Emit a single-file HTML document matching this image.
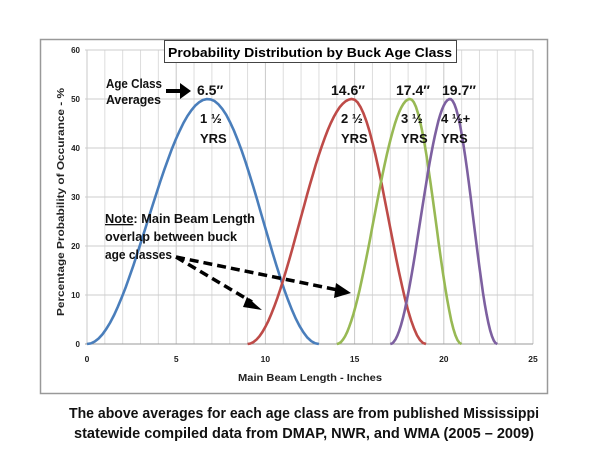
<!DOCTYPE html>
<html><head><meta charset="utf-8"><style>
html,body{margin:0;padding:0;background:#fff;}
svg{display:block;font-family:"Liberation Sans",sans-serif;}
</style></head><body>
<svg id="s" width="600" height="450" viewBox="0 0 600 450">
<rect x="40.5" y="39.5" width="507" height="354" fill="#fff" stroke="#999" stroke-width="1.5"/>
<g id="grid"></g>
<g id="curves" fill="none" stroke-width="2.6"></g>
<rect x="164.5" y="40.5" width="292" height="22" fill="#fff" stroke="#444" stroke-width="1"/>
<text x="310" y="57" text-anchor="middle" font-weight="bold" font-size="13" textLength="284" lengthAdjust="spacingAndGlyphs">Probability Distribution by Buck Age Class</text>
<g font-weight="bold" font-size="13" fill="#111">
<text x="106" y="88" textLength="56" lengthAdjust="spacingAndGlyphs">Age Class</text>
<text x="106" y="104" textLength="55" lengthAdjust="spacingAndGlyphs">Averages</text>
<text x="197" y="95" font-size="14">6.5″</text>
<text x="331" y="95" font-size="14">14.6″</text>
<text x="396" y="95" font-size="14">17.4″</text>
<text x="442" y="95" font-size="14">19.7″</text>
<text x="200" y="123">1 ½</text><text x="200" y="143">YRS</text>
<text x="341" y="123">2 ½</text><text x="341" y="143">YRS</text>
<text x="401" y="123">3 ½</text><text x="401" y="143">YRS</text>
<text x="441" y="123">4 ½+</text><text x="441" y="143">YRS</text>
<text x="105" y="223" textLength="150" lengthAdjust="spacingAndGlyphs"><tspan text-decoration="underline">Note</tspan>: Main Beam Length</text>
<text x="105" y="241" textLength="132" lengthAdjust="spacingAndGlyphs">overlap between buck</text>
<text x="105" y="259" textLength="67" lengthAdjust="spacingAndGlyphs">age classes</text>
</g>
<path d="M166 91 H182" stroke="#000" stroke-width="4"/>
<path d="M180 83 L191 91 L180 99 Z" fill="#000"/>
<g stroke="#000" stroke-width="3.5" stroke-dasharray="9,5" fill="none">
<path d="M176 257 L252 302"/>
<path d="M176 257 L338 290"/>
</g>
<path d="M247 297 L262 310 L243 307 Z" fill="#000"/>
<path d="M336 283 L351 293 L334 298 Z" fill="#000"/>
<text transform="translate(64,202) rotate(-90)" text-anchor="middle" font-weight="bold" font-size="10.5" fill="#222" textLength="228" lengthAdjust="spacingAndGlyphs">Percentage Probability of Occurance - %</text>
<text x="310" y="381" text-anchor="middle" font-weight="bold" font-size="10.5" fill="#222" textLength="144" lengthAdjust="spacingAndGlyphs">Main Beam Length - Inches</text>
<g font-weight="bold" font-size="14.5" text-anchor="middle" fill="#111">
<text x="304" y="418" textLength="470" lengthAdjust="spacingAndGlyphs">The above averages for each age class are from published Mississippi</text>
<text x="304" y="438" textLength="460" lengthAdjust="spacingAndGlyphs">statewide compiled data from DMAP, NWR, and WMA (2005 – 2009)</text>
</g>
</svg>
<script>
var X0=87,XS=17.84,Y0=344,YS=4.9,ns="http://www.w3.org/2000/svg";
var g=document.getElementById('grid'),s='';
for(var i=0;i<=25;i++){var x=X0+i*XS;s+='<line x1="'+x+'" y1="50" x2="'+x+'" y2="344" stroke="'+(i%5?'#ddd':'#c8c8c8')+'" stroke-width="1"/>';
if(i%5==0)s+='<text x="'+x+'" y="362" text-anchor="middle" font-size="8.5" font-weight="bold" fill="#222">'+i+'</text>';}
for(var j=0;j<=6;j++){var y=Y0-j*10*YS;s+='<line x1="85" y1="'+y+'" x2="533" y2="'+y+'" stroke="'+(j?'#ccc':'#999')+'" stroke-width="1"/>';
s+='<text x="80" y="'+(y+3)+'" text-anchor="end" font-size="8" font-weight="bold" fill="#222">'+(j*10)+'</text>';}
g.innerHTML=s;
function curve(a,p,b,col){var d='';for(var k=0;k<=60;k++){var x=a+(b-a)*k/60,px=X0+x*XS,t,v;
if(px<p){t=(px-(X0+a*XS))/(p-(X0+a*XS));}else{t=((X0+b*XS)-px)/((X0+b*XS)-p);}
v=25*(1-Math.cos(Math.PI*t));d+=(k?'L':'M')+px.toFixed(1)+' '+(Y0-v*YS).toFixed(1);}
return '<path d="'+d+'" stroke="'+col+'"/>';}
document.getElementById('curves').innerHTML=curve(0,208,13,'#4a7ebb')+curve(9,352,19,'#be4b48')+curve(14,410,21,'#98b954')+curve(17,450,23,'#7d60a0');
</script>
</body></html>
